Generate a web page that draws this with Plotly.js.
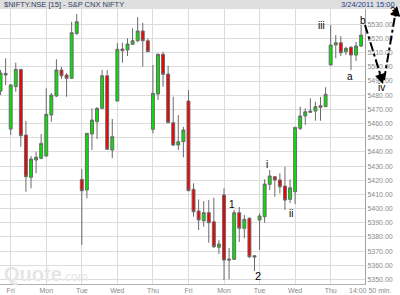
<!DOCTYPE html>
<html><head><meta charset="utf-8">
<script src="https://cdn.plot.ly/plotly-3.0.1.min.js"></script>
<style>html,body{margin:0;padding:0;background:#fff}#chart{width:400px;height:295px}</style>
</head><body><div id="chart"></div>
<script>
const dayLabels = ['Fri','Mon','Tue','Wed','Thu','Fri','Mon','Tue','Wed','Thu'];
const dayStartBar = [2,9,16,23,30,37,44,51,58,65];
const priceTicks = [5350,5360,5370,5380,5390,5400,5410,5420,5430,5440,5450,5460,5470,5480,5490,5500,5510,5520,5530];
const open = [5482.9,5495.4,5456.1,5486.0,5498.2,5451.9,5422.1,5434.3,5435.5,5437.1,
5466.0,5479.4,5497.8,5494.2,5491.9,5523.6,5420.6,5413.1,5452.6,5461.3,
5470.7,5493.7,5441.3,5475.9,5512.6,5511.9,5515.9,5518.4,5525.3,5518.4,
5455.9,5480.8,5508.8,5494.9,5460.6,5444.8,5447.2,5475.9,5413.6,5398.3,
5391.4,5397.1,5390.7,5372.7,5409.6,5364.4,5364.2,5397.1,5386.1,5393.1,
5366.7,5391.9,5394.3,5417.1,5422.5,5420.2,5415.9,5406.5,5411.9,5456.6,
5465.3,5467.9,5468.8,5471.4,5471.9,5501.3,5515.4,5517.0,5510.7,5513.8,
5508.3,5514.7];
const high = [5497.8,5506.0,5487.9,5502.9,5498.5,5461.8,5437.1,5440.1,5452.6,5484.8,
5481.5,5505.3,5499.9,5495.6,5531.8,5537.3,5427.9,5453.3,5470.7,5471.6,
5497.8,5497.8,5463.2,5516.8,5517.0,5520.1,5527.2,5535.1,5531.1,5520.1,
5501.3,5509.5,5510.7,5500.8,5478.9,5466.0,5457.7,5483.6,5417.8,5406.5,
5405.3,5406.0,5407.7,5377.8,5414.3,5372.2,5399.0,5401.1,5395.5,5394.0,
5367.2,5396.7,5420.6,5427.2,5423.0,5424.9,5429.5,5420.6,5457.5,5471.9,
5470.7,5477.8,5475.4,5478.7,5485.6,5529.5,5522.4,5521.7,5514.2,5514.7,
5517.5,5529.5];
const low = [5480.1,5487.2,5451.9,5482.4,5443.6,5411.9,5414.3,5424.9,5434.8,5436.4,
5461.3,5478.7,5491.4,5478.9,5491.5,5522.4,5374.3,5407.2,5441.3,5449.1,
5470.6,5441.3,5435.5,5475.6,5502.9,5507.6,5515.4,5517.5,5500.1,5510.5,
5453.1,5476.6,5486.0,5460.4,5444.1,5441.3,5436.2,5412.4,5394.3,5384.9,
5387.2,5375.9,5372.2,5367.9,5349.6,5350.1,5363.7,5376.4,5379.0,5365.1,
5355.9,5370.8,5390.0,5413.1,5408.4,5410.8,5399.0,5403.9,5403.2,5455.4,
5459.0,5467.7,5462.0,5462.0,5471.6,5501.0,5506.0,5507.6,5508.3,5497.8,
5504.1,5514.0];
const close = [5495.6,5494.2,5487.2,5498.2,5451.4,5422.5,5435.0,5436.2,5446.0,5466.5,
5480.1,5497.8,5493.7,5491.9,5524.1,5531.8,5412.6,5453.1,5462.5,5470.7,
5493.7,5441.8,5450.7,5512.4,5511.4,5516.1,5518.4,5525.3,5518.4,5510.7,
5481.3,5508.8,5494.7,5460.6,5444.8,5447.2,5455.4,5412.6,5397.8,5392.0,
5397.1,5390.0,5373.1,5375.0,5363.7,5363.7,5397.1,5386.1,5392.4,5366.0,
5365.8,5394.8,5417.3,5423.0,5420.2,5415.4,5406.0,5414.7,5457.3,5465.3,
5468.3,5468.8,5471.9,5472.6,5480.6,5515.4,5517.0,5509.9,5513.1,5508.3,
5514.7,5522.4];
const bars = open.map((_, i) => i);

const trace = {
  type: 'candlestick', x: bars, open: open, high: high, low: low, close: close,
  increasing: {line: {color: '#6a6a6a', width: 1}, fillcolor: '#00e400'},
  decreasing: {line: {color: '#6a6a6a', width: 1}, fillcolor: '#f00000'},
  whiskerwidth: 0, hoverinfo: 'none'
};

const W = 365, H = 275, T = 9;
const px = x => x / W;
const py = y => (T + H - y) / H;
const lbl = (text, x, y, size) => ({text: text, x: px(x), y: py(y), xref: 'paper', yref: 'paper',
  showarrow: false, xanchor: 'center', yanchor: 'middle',
  font: {family: 'Liberation Sans, Arial', size: size || 10, color: '#000000'}});

const layout = {
  width: 400, height: 295, autosize: false,
  margin: {l: 0, r: 35, t: 9, b: 11, pad: 0},
  paper_bgcolor: '#fff', plot_bgcolor: '#fff',
  showlegend: false, boxgap: 0.18,
  xaxis: {range: [-0.106, 71.76], rangeslider: {visible: false}, tickmode: 'array',
    tickvals: dayStartBar, ticktext: dayLabels, showgrid: true, gridcolor: '#dcdcdc', gridwidth: 1,
    showline: true, linecolor: '#b0b0b0', linewidth: 1, ticks: '', zeroline: false, fixedrange: true,
    tickfont: {family: 'Liberation Sans, Arial', size: 7, color: '#8a8a8a'}},
  yaxis: {side: 'right', range: [5346.8, 5540.8], tickmode: 'array', tickvals: priceTicks, tickformat: '.2f',
    showgrid: true, gridcolor: '#dcdcdc', gridwidth: 1, showline: true, linecolor: '#a0a0a0',
    linewidth: 1, ticks: '', zeroline: false, fixedrange: true,
    tickfont: {family: 'Liberation Sans, Arial', size: 7, color: '#8a8a8a'}},
  shapes: [
    {type: 'rect', xref: 'paper', yref: 'paper', x0: 0, x1: 400 / W, y0: 1, y1: (T + H) / H,
      fillcolor: '#dedede', line: {width: 0}, layer: 'above'},
    {type: 'line', xref: 'paper', yref: 'paper', x0: px(365), y0: py(25), x1: px(382), y1: py(80),
      line: {color: '#000', width: 2, dash: 'dashdot'}},
    {type: 'line', xref: 'paper', yref: 'paper', x0: px(384), y0: py(80), x1: px(396), y1: py(10),
      line: {color: '#000', width: 2, dash: 'dashdot'}}
  ],
  annotations: [
    {text: '$NIFTY.NSE [15] - S&P CNX NIFTY', x: px(2), y: py(5), xref: 'paper', yref: 'paper',
      showarrow: false, xanchor: 'left', yanchor: 'middle',
      font: {family: 'Liberation Sans, Arial', size: 7.5, color: '#2f3f5f'}},
    {text: '3/24/2011 15:00', x: px(397), y: py(5), xref: 'paper', yref: 'paper',
      showarrow: false, xanchor: 'right', yanchor: 'middle',
      font: {family: 'Liberation Sans, Arial', size: 7.5, color: '#1f3f8f'}},
    {text: '14:00 50 min.', x: px(369.5), y: py(290.5), xref: 'paper', yref: 'paper',
      showarrow: false, xanchor: 'center', yanchor: 'middle',
      font: {family: 'Liberation Sans, Arial', size: 7, color: '#8a8a8a'}},
    {text: '<b>Quote</b><span style="font-size:12px">.com</span>', x: px(2), y: py(274),
      xref: 'paper', yref: 'paper', showarrow: false, xanchor: 'left', yanchor: 'middle',
      font: {family: 'Liberation Sans, Arial', size: 20, color: '#e6e6e6'}},
    lbl('1', 232, 204), lbl('2', 257.5, 276, 11), lbl('i', 267, 164), lbl('ii', 290.5, 213.5),
    lbl('iii', 321, 26), lbl('a', 350, 76.5), lbl('b', 363, 20), lbl('iv', 381.5, 87), lbl('3', 392.5, 11),
    {text: '', x: px(383), y: py(84), ax: -4, ay: -12, xref: 'paper', yref: 'paper', showarrow: true,
      arrowhead: 2, arrowsize: 1, arrowwidth: 2, arrowcolor: '#000'},
    {text: '', x: px(397), y: py(6), ax: -2, ay: 12, xref: 'paper', yref: 'paper', showarrow: true,
      arrowhead: 2, arrowsize: 1, arrowwidth: 2, arrowcolor: '#000'}
  ]
};
Plotly.newPlot('chart', [trace], layout, {displayModeBar: false, staticPlot: true});
</script></body></html>
